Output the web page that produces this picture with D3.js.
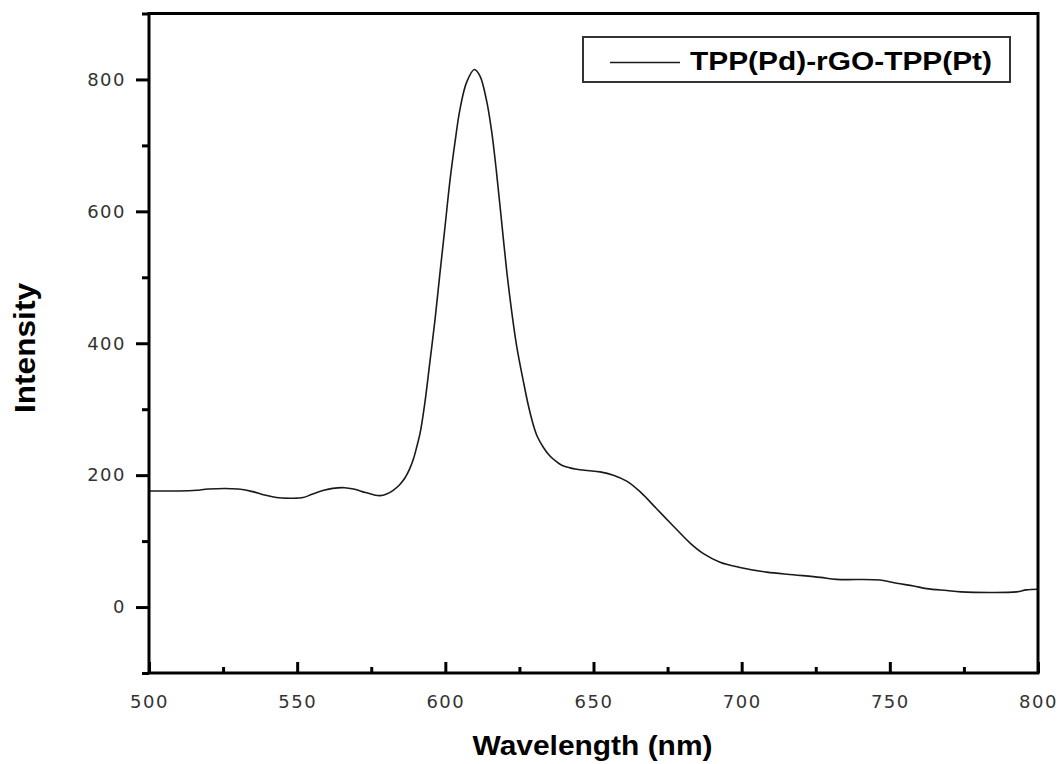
<!DOCTYPE html>
<html>
<head>
<meta charset="utf-8">
<script src="https://cdn.jsdelivr.net/npm/d3@7"></script>
<style>
  body { margin: 0; background: #fff; }
</style>
</head>
<body>
<script>
// wavelength (nm) and intensity
var wavelength = [500, 510, 516, 520, 530, 535, 539, 543, 548, 552, 555, 559, 562, 566, 569, 572, 576, 578, 580,
  582.4, 584.5, 586.4, 588, 589.2, 590.3, 591.5, 593.1, 594.8, 596.5, 598.2, 599.9, 601.6, 603.3, 604.9, 607.2,
  609.8, 611.7, 614, 615.7, 617.3, 619, 620.7, 622.4, 624.1, 626.3, 628, 629.7, 631, 633.1, 635.3, 637.6, 639.3,
  642.1, 644.3, 648, 652.2, 656.7, 661.2, 665.7, 671.3, 676.9, 682.6, 687.1, 692.7, 699.4, 708.4, 717.4, 726.5,
  732, 746.7, 752.3, 758, 762.4, 769.2, 774, 792.8, 796, 800];
var intensity = [176, 176, 177, 179, 179, 175, 170, 166, 165, 166, 171, 177, 180, 181, 179, 175, 170, 169, 171,
  177, 185, 196, 210, 224, 242, 264, 310, 372, 435, 507, 577, 648, 706, 754, 796,
  815, 805, 766, 719, 658, 584, 510, 448, 395, 343, 306, 276, 259, 242, 229, 220, 215,
  211, 209, 207, 205, 200, 191, 175, 149, 123, 97, 81, 68, 60, 53, 49, 45,
  42, 41, 36, 32, 28, 25, 23, 23, 26, 27];
var seriesName = "TPP(Pd)-rGO-TPP(Pt)";
var xTicks = [500, 550, 600, 650, 700, 750, 800];
var xMinor = [525, 575, 625, 675, 725, 775];
var yTicks = [0, 200, 400, 600, 800];
var yMinor = [-100, 100, 300, 500, 700, 900];

var width = 1063, height = 764;
var m = { left: 149, right: 1038, top: 13.5, bottom: 673 };

var x = d3.scaleLinear().domain([500, 800]).range([m.left, m.right]);
var y = d3.scaleLinear().domain([-100, 900]).range([m.bottom, m.top]);

var svg = d3.select("body").append("svg")
  .attr("width", width)
  .attr("height", height)
  .style("font-family", "'Liberation Sans', Arial, sans-serif");

// curve
var line = d3.line()
  .x(function (d) { return x(d[0]); })
  .y(function (d) { return y(d[1]); })
  .curve(d3.curveCatmullRom.alpha(0.5));

svg.append("path")
  .datum(d3.zip(wavelength, intensity))
  .attr("d", line)
  .attr("fill", "none")
  .attr("stroke", "#1a1a1a")
  .attr("stroke-width", 1.6);

// y axis, ticks outside
var yAxis = svg.append("g").attr("transform", "translate(" + m.left + ",0)");
yAxis.call(d3.axisLeft(y).tickValues(yTicks).tickSize(13).tickPadding(10).tickFormat(d3.format("d")));
yAxis.append("g").call(d3.axisLeft(y).tickValues(yMinor).tickSize(7).tickFormat(""));

// x axis, ticks inside
var xAxis = svg.append("g").attr("transform", "translate(0," + m.bottom + ")");
xAxis.call(d3.axisBottom(x).tickValues(xTicks).tickSize(-11).tickPadding(22).tickFormat(d3.format("d")));
xAxis.append("g").call(d3.axisBottom(x).tickValues(xMinor).tickSize(-6).tickFormat(""));

svg.selectAll(".domain").remove();
svg.selectAll(".tick line").attr("stroke", "#000").attr("stroke-width", 3);
svg.selectAll(".tick text")
  .attr("fill", "#333")
  .style("font-family", "'DejaVu Sans', Verdana, sans-serif")
  .style("font-size", "18px")
  .style("letter-spacing", "1.5px");

// frame
svg.append("rect")
  .attr("x", m.left)
  .attr("y", m.top)
  .attr("width", m.right - m.left)
  .attr("height", m.bottom - m.top)
  .attr("fill", "none")
  .attr("stroke", "#000")
  .attr("stroke-width", 3);

// axis titles
svg.append("text")
  .attr("x", (m.left + m.right) / 2 - 1)
  .attr("y", 755)
  .attr("text-anchor", "middle")
  .attr("font-weight", "bold")
  .attr("font-size", 27)
  .attr("textLength", 240)
  .attr("lengthAdjust", "spacingAndGlyphs")
  .text("Wavelength (nm)");

svg.append("text")
  .attr("transform", "translate(35,348) rotate(-90)")
  .attr("text-anchor", "middle")
  .attr("font-weight", "bold")
  .attr("font-size", 29)
  .attr("textLength", 130)
  .attr("lengthAdjust", "spacingAndGlyphs")
  .text("Intensity");

// legend
var legend = svg.append("g");
legend.append("rect")
  .attr("x", 583)
  .attr("y", 37)
  .attr("width", 427)
  .attr("height", 45)
  .attr("fill", "#fff")
  .attr("stroke", "#333")
  .attr("stroke-width", 2);
legend.append("line")
  .attr("x1", 610).attr("x2", 680)
  .attr("y1", 62.5).attr("y2", 62.5)
  .attr("stroke", "#1a1a1a")
  .attr("stroke-width", 1.6);
legend.append("text")
  .attr("x", 690)
  .attr("y", 70)
  .attr("font-weight", "bold")
  .attr("font-size", 25)
  .attr("textLength", 302)
  .attr("lengthAdjust", "spacingAndGlyphs")
  .text(seriesName);
</script>
</body>
</html>
